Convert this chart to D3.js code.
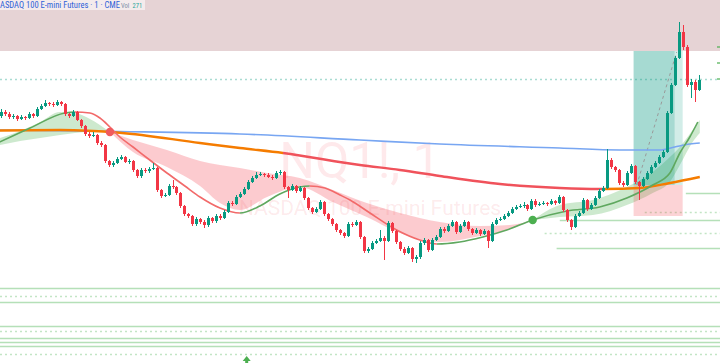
<!DOCTYPE html>
<html><head><meta charset="utf-8">
<script src="https://cdn.jsdelivr.net/npm/d3@7"></script>
<style>html,body{margin:0;padding:0;background:#fff;overflow:hidden}svg{display:block}</style>
</head><body>
<svg id="c" width="720" height="363"></svg>
<script>
// ---------- DATA ----------
const openP = [18284,18288,18286,18283,18284,18281,18283,18282,18286,18284,18291,18294,18297,18296,18295,18298,18296,18286,18284,18288,18280,18274,18266,18264,18265,18257,18255,18239,18235,18237,18241,18243,18238,18239,18230,18224,18230,18229,18231,18232,18210,18204,18205,18214,18213,18207,18194,18186,18184,18176,18181,18178,18175,18182,18179,18184,18182,18188,18197,18196,18203,18206,18211,18218,18222,18225,18226,18225,18223,18222,18227,18228,18213,18210,18214,18209,18212,18202,18192,18188,18191,18198,18186,18181,18176,18170,18167,18164,18176,18175,18178,18163,18149,18151,18157,18159,18162,18159,18177,18169,18158,18151,18147,18152,18141,18143,18157,18160,18150,18160,18163,18171,18169,18174,18178,18168,18174,18178,18171,18167,18170,18166,18169,18159,18176,18180,18181,18184,18187,18191,18193,18194,18195,18191,18199,18195,18196,18197,18196,18199,18197,18203,18190,18180,18173,18184,18187,18200,18191,18195,18202,18209,18212,18240,18233,18230,18217,18215,18227,18234,18218,18214,18221,18227,18233,18237,18243,18248,18287,18315,18342,18368,18353,18315,18318,18310];
const highP = [18291,18290,18288,18286,18285,18285,18284,18288,18287,18293,18296,18300,18298,18298,18300,18299,18297,18287,18290,18289,18281,18275,18268,18268,18266,18259,18256,18240,18239,18243,18245,18244,18241,18240,18231,18232,18232,18233,18237,18233,18211,18207,18216,18220,18214,18208,18195,18187,18185,18183,18182,18180,18184,18183,18186,18186,18190,18199,18199,18205,18208,18213,18220,18224,18228,18228,18227,18227,18225,18229,18230,18229,18214,18216,18215,18214,18213,18203,18193,18193,18200,18199,18187,18182,18177,18171,18168,18178,18178,18180,18179,18164,18153,18159,18161,18170,18164,18179,18178,18170,18159,18153,18154,18153,18145,18159,18162,18161,18162,18165,18173,18173,18176,18180,18179,18176,18180,18179,18172,18172,18171,18171,18170,18178,18182,18183,18186,18189,18193,18195,18196,18198,18196,18201,18201,18198,18199,18198,18201,18200,18205,18204,18191,18181,18186,18189,18202,18201,18197,18204,18211,18214,18251,18242,18234,18231,18219,18229,18236,18235,18219,18223,18229,18235,18239,18245,18250,18289,18317,18344,18378,18375,18355,18321,18320,18325];
const lowP = [18282,18284,18281,18281,18279,18280,18280,18281,18282,18283,18290,18293,18294,18293,18294,18294,18284,18282,18283,18279,18272,18264,18262,18263,18255,18253,18237,18233,18233,18236,18240,18237,18236,18228,18222,18222,18227,18227,18230,18208,18202,18203,18204,18211,18205,18192,18184,18182,18174,18174,18176,18172,18173,18177,18177,18180,18181,18187,18194,18195,18202,18205,18210,18217,18221,18224,18223,18222,18220,18221,18225,18211,18202,18209,18207,18208,18200,18190,18186,18187,18190,18184,18179,18174,18168,18165,18162,18163,18173,18174,18161,18147,18147,18150,18156,18158,18140,18158,18167,18156,18149,18145,18146,18138,18137,18141,18155,18148,18149,18159,18162,18167,18168,18173,18166,18167,18173,18169,18165,18166,18164,18165,18152,18158,18175,18179,18180,18183,18186,18190,18192,18192,18189,18190,18193,18194,18195,18194,18195,18195,18196,18188,18178,18170,18172,18183,18186,18189,18190,18194,18201,18208,18211,18231,18228,18215,18213,18214,18226,18216,18200,18213,18220,18226,18232,18236,18242,18247,18286,18314,18341,18350,18313,18302,18298,18309];
const closeP = [18288,18286,18283,18284,18281,18283,18282,18286,18284,18291,18294,18297,18296,18295,18298,18296,18286,18284,18288,18280,18274,18266,18264,18265,18257,18255,18239,18235,18237,18241,18243,18238,18239,18230,18224,18230,18229,18231,18232,18210,18204,18205,18214,18213,18207,18194,18186,18184,18176,18181,18178,18175,18182,18179,18184,18182,18188,18197,18196,18203,18206,18211,18218,18222,18225,18226,18225,18223,18222,18227,18228,18213,18210,18214,18209,18212,18202,18192,18188,18191,18198,18186,18181,18176,18170,18167,18164,18176,18175,18178,18163,18149,18151,18157,18159,18162,18159,18177,18169,18158,18151,18147,18152,18141,18143,18157,18160,18150,18160,18163,18171,18169,18174,18178,18168,18174,18178,18171,18167,18170,18166,18169,18159,18176,18180,18181,18184,18187,18191,18193,18194,18195,18191,18199,18195,18196,18197,18196,18199,18197,18203,18190,18180,18173,18184,18187,18200,18191,18195,18202,18209,18212,18240,18233,18230,18217,18215,18227,18234,18218,18214,18221,18227,18233,18237,18243,18248,18287,18315,18342,18368,18353,18315,18318,18310,18320];

// fast moving average (thin line, coloured by slope)
const fastBars = [-0.3,7.3,16.0,18.5,22.3,24.8,27.3,29.8,33.1,37.3,41.6,46.1,49.9,54.9,59.9,64.9,69.9,74.9,77.4,81.2,85.0,87.5,92.5,99.2,105.0,109.3,115.0,120.8,126.8,133.3,141.9,150.1,156.9,163.4,167.7,170.2,172.7,174.7];
const fastVals = [18258,18272,18287,18288,18287,18282,18273,18263,18253,18240,18227,18214,18203,18192,18187,18194,18206,18213,18214,18212,18205,18200,18187,18170,18160,18156,18158,18163,18170,18180,18189,18193,18202,18215,18227,18247,18263,18278];

// ribbon (two averages, filled between)
const ribBars = [-0.3,4.8,9.8,14.8,18.5,22.3,27.3,33.1,41.6,49.9,54.9,59.9,66.7,74.9,83.2,91.7,100.0,110.0,120.1,127.6,133.3,140.1,148.4,156.9,163.4,167.7,170.2,173.4,175.2];
const ribFast = [18262,18269,18278,18288,18287,18281,18268,18248,18233,18214,18197,18190,18203,18213,18198,18183,18167,18158,18164,18171,18180,18195,18200,18213,18228,18243,18253,18270,18280];
const ribSlow = [18255,18259,18262,18265,18267,18268,18268,18260,18250,18239,18235,18232,18227,18222,18210,18197,18187,18178,18174,18175,18180,18183,18185,18195,18207,18218,18235,18258,18267];

// long average (blue)
const blueBars = [-0.3,29.8,59.9,90.0,110.0,140.1,155.1,165.2,168.9,172.7,175.2];
const blueVals = [18270,18268.5,18266,18260,18256,18252,18250,18250,18253,18256,18257];

// mid average (orange / red)
const midBars = [-0.3,14.8,29.8,49.9,59.9,70.7,90.0,100.0,110.0,125.1,140.1,150.1,160.2,167.7,175.2];
const midVals = [18269.5,18270,18267.3,18257,18252,18247,18235,18230,18224,18216,18212,18211,18212,18217,18223];
const midRedFrom = 70.7, midRedTo = 151.4;

// signals
const crossDown = {bar: 27.3, price: 18268};
const crossUp = {bar: 133.3, price: 18180};
const buyArrowBar = 61.6;

// zones / drawings
const topZone = [18349, 18400];
const posBars = [158.6, 168.9, 170.9];
const posTarget = 18349, posEntry = 18215, posStop = 18184;
const posPath = {from: [159.4, 18215], to: [169.4, 18348]};

// horizontal levels: [price, startBar, style]
const levels = [
  [18321, -1, "dot"],
  [18207, 171.7, "solid"],
  [18188, 161.4, "dot"],
  [18180, 140.1, "solid"],
  [18167, 136.3, "dot"],
  [18152, 139.3, "solid"],
  [18112, -1, "solid"],
  [18104, -1, "dot"],
  [18098, -1, "solid"],
  [18074, -1, "solid"],
  [18069, -1, "dot"],
  [18062, -1, "solid"],
  [18058, -1, "solid"],
  [18054, -1, "solid"],
  [18046, -1, "dot"]
];

const titleText = "ASDAQ 100 E-mini Futures · 1 · CME";
const volLabel = "Vol", volValue = "271";
const wmSymbol = "NQ1!, 1", wmName = "NASDAQ 100 E-mini Futures";

// ---------- DRAW ----------
const W = 720, H = 363;
const svg = d3.select("#c");
const x = d3.scaleLinear().domain([0, closeP.length - 1]).range([1, 699]);
const y = d3.scaleLinear().domain([18037, 18400]).range([H, 0]);
const defs = svg.append("defs");

const UP = "#089981", DN = "#f23645";

// top zone
svg.append("rect").attr("x", 0).attr("width", W)
  .attr("y", y(topZone[1])).attr("height", y(topZone[0]) - y(topZone[1]))
  .attr("fill", "#e6d3d5");

// watermark
svg.append("text").attr("x", 360).attr("y", 178).attr("text-anchor", "middle")
  .attr("font-family", "Roboto, 'Liberation Sans', sans-serif").attr("font-size", 50)
  .attr("fill", "rgba(242,54,69,0.11)").text(wmSymbol);
svg.append("text").attr("x", 370).attr("y", 215).attr("text-anchor", "middle")
  .attr("font-family", "Roboto, 'Liberation Sans', sans-serif").attr("font-size", 21)
  .attr("fill", "rgba(242,54,69,0.11)").text(wmName);

// levels
levels.forEach(([p, sb, st], i) => {
  const x0 = sb < 0 ? 0 : x(sb);
  svg.append("line").attr("x1", x0).attr("x2", W)
    .attr("y1", Math.round(y(p)) + 0.5).attr("y2", Math.round(y(p)) + 0.5)
    .attr("stroke", i === 0 ? "#a9dcd2" : (st === "dot" ? "#c3e5c5" : "#b5e0b8"))
    .attr("stroke-width", st === "dot" ? 1.5 : 1.3)
    .attr("stroke-dasharray", st === "dot" ? "2,3" : null);
});

// ribbon fill (green when fast above slow, pink when below)
const ribPts = ribBars.map((b, i) => ({b, a: ribFast[i], s: ribSlow[i]}));
const crossIdx = [0];
ribPts.forEach((d, i) => { if (i > 0 && i < ribPts.length - 1 && d.a === d.s) crossIdx.push(i); });
crossIdx.push(ribPts.length - 1);
const area = d3.area().x(d => x(d.b)).y0(d => y(d.s)).y1(d => y(d.a)).curve(d3.curveMonotoneX);
for (let k = 0; k < crossIdx.length - 1; k++) {
  const seg = ribPts.slice(crossIdx[k], crossIdx[k + 1] + 1);
  const mid = seg[Math.floor(seg.length / 2)];
  svg.append("path").attr("d", area(seg))
    .attr("fill", mid.a > mid.s ? "rgba(76,175,80,0.28)" : "rgba(242,54,69,0.26)");
}

// position tool
svg.append("rect").attr("x", x(posBars[0])).attr("width", x(posBars[1]) - x(posBars[0]))
  .attr("y", y(posTarget)).attr("height", y(posEntry) - y(posTarget)).attr("fill", "rgba(8,153,129,0.36)");
svg.append("rect").attr("x", x(posBars[1])).attr("width", x(posBars[2]) - x(posBars[1]))
  .attr("y", y(posTarget)).attr("height", y(posEntry) - y(posTarget)).attr("fill", "rgba(8,153,129,0.18)");
svg.append("rect").attr("x", x(posBars[0])).attr("width", x(posBars[2]) - x(posBars[0]))
  .attr("y", y(posEntry)).attr("height", y(posStop) - y(posEntry)).attr("fill", "rgba(242,54,69,0.22)");
svg.append("line").attr("x1", x(posPath.from[0])).attr("y1", y(posPath.from[1]))
  .attr("x2", x(posPath.to[0])).attr("y2", y(posPath.to[1]))
  .attr("stroke", "#9a9a9a").attr("stroke-width", 1).attr("stroke-dasharray", "3,3");

// clip helper
function clipX(id, x0, x1) {
  defs.append("clipPath").attr("id", id).append("rect")
    .attr("x", x0).attr("y", -10).attr("width", Math.max(0, x1 - x0)).attr("height", H + 20);
  return "url(#" + id + ")";
}

// blue long MA
const line = d3.line().x(d => x(d[0])).y(d => y(d[1])).curve(d3.curveMonotoneX);
svg.append("path").attr("d", line(blueBars.map((b, i) => [b, blueVals[i]])))
  .attr("fill", "none").attr("stroke", "#78a6f2").attr("stroke-width", 1.6);

// mid MA, orange / red segments
const midPath = line(midBars.map((b, i) => [b, midVals[i]]));
[[ -10, x(midRedFrom), "#f57c00"], [x(midRedFrom), x(midRedTo), "#f0525b"], [x(midRedTo), W + 10, "#f57c00"]]
  .forEach(([a, b, c], k) => {
    svg.append("path").attr("d", midPath).attr("fill", "none").attr("stroke", c)
      .attr("stroke-width", 2.4).attr("clip-path", clipX("mid" + k, a, b));
  });

// fast MA, coloured by slope
const fastPts = fastBars.map((b, i) => [b, fastVals[i]]);
const fastPath = line(fastPts);
const turns = [0];
for (let i = 1; i < fastPts.length - 1; i++) {
  const d1 = fastPts[i][1] - fastPts[i - 1][1], d2 = fastPts[i + 1][1] - fastPts[i][1];
  if (d1 * d2 < 0) turns.push(i);
}
turns.push(fastPts.length - 1);
for (let k = 0; k < turns.length - 1; k++) {
  const i0 = turns[k], i1 = turns[k + 1];
  const rising = fastPts[i1][1] > fastPts[i0][1];
  const xa = k === 0 ? -10 : x(fastPts[i0][0]);
  const xb = k === turns.length - 2 ? W + 10 : x(fastPts[i1][0]);
  svg.append("path").attr("d", fastPath).attr("fill", "none")
    .attr("stroke", rising ? "#5fa85f" : "#f26a6a").attr("stroke-width", 1.6)
    .attr("clip-path", clipX("fast" + k, xa, xb));
}

// candles
const bw = 3;
const g = svg.append("g");
closeP.forEach((c, i) => {
  const o = openP[i], col = c >= o ? UP : DN;
  const cx = Math.round(x(i));
  g.append("line").attr("x1", cx + 0.5).attr("x2", cx + 0.5)
    .attr("y1", y(highP[i])).attr("y2", y(lowP[i])).attr("stroke", col).attr("stroke-width", 1);
  const top = y(Math.max(o, c)), bot = y(Math.min(o, c));
  g.append("rect").attr("x", cx + 0.5 - bw / 2).attr("width", bw)
    .attr("y", top).attr("height", Math.max(1, bot - top)).attr("fill", col);
});

// signal dots
svg.append("circle").attr("cx", x(crossDown.bar)).attr("cy", y(crossDown.price)).attr("r", 4.2).attr("fill", "#f05a5e");
svg.append("circle").attr("cx", x(crossUp.bar)).attr("cy", y(crossUp.price)).attr("r", 4.2).attr("fill", "#4caf50");

// buy arrow at bottom
const ax = x(buyArrowBar);
svg.append("path").attr("d", `M${ax},${H - 7} L${ax + 4},${H - 2} L${ax + 1.5},${H - 2} L${ax + 1.5},${H} L${ax - 1.5},${H} L${ax - 1.5},${H - 2} L${ax - 4},${H - 2} Z`)
  .attr("fill", "#4caf50");

// right edge tick marks
[18353, 18337, 18321].forEach(p => {
  svg.append("line").attr("x1", W - 3).attr("x2", W).attr("y1", y(p)).attr("y2", y(p))
    .attr("stroke", "#4caf50").attr("stroke-width", 1.2);
});

// legend
svg.append("rect").attr("x", 0).attr("y", 0).attr("width", 145).attr("height", 10).attr("fill", "rgba(255,255,255,0.55)");
const ff = "'Liberation Sans Narrow', 'Roboto Condensed', sans-serif";
svg.append("text").attr("x", 0).attr("y", 8).attr("font-family", ff).attr("font-size", 8.5)
  .attr("fill", "#2f62d8").text(titleText);
svg.append("text").attr("x", 121).attr("y", 8).attr("font-family", ff).attr("font-size", 6.5)
  .attr("fill", "#7c8da6").text(volLabel);
svg.append("text").attr("x", 132.5).attr("y", 8).attr("font-family", ff).attr("font-size", 6.5)
  .attr("fill", "#26a69a").text(volValue);
</script>
</body></html>
